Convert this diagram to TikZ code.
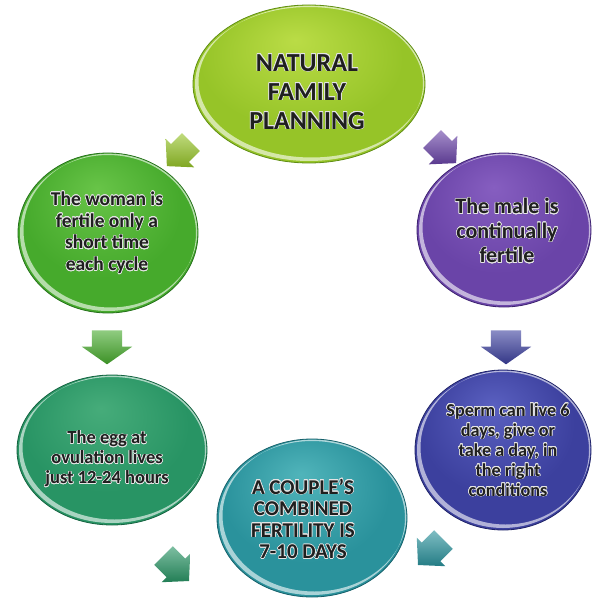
\documentclass[tikz,border=0pt]{standalone}
\usepackage{fontspec}
\setmainfont{Carlito}
\usepackage{contour}
\contourlength{0.55pt}
\contournumber{20}
\usetikzlibrary{shapes.geometric,shapes.arrows}

% colours of the glossy bubbles: light / body / rim
\definecolor{limeL}{RGB}{186,220,70}  \definecolor{limeB}{RGB}{150,196,40}  \definecolor{limeD}{RGB}{96,142,20}
\definecolor{leafL}{RGB}{104,196,72}  \definecolor{leafB}{RGB}{70,170,44}   \definecolor{leafD}{RGB}{38,114,28}
\definecolor{plumL}{RGB}{134,94,192}  \definecolor{plumB}{RGB}{106,68,168}  \definecolor{plumD}{RGB}{62,36,112}
\definecolor{navyL}{RGB}{90,96,192}   \definecolor{navyB}{RGB}{60,64,158}   \definecolor{navyD}{RGB}{32,36,104}
\definecolor{jadeL}{RGB}{70,172,122}  \definecolor{jadeB}{RGB}{40,148,100}  \definecolor{jadeD}{RGB}{22,100,66}
\definecolor{tealL}{RGB}{80,180,186}  \definecolor{tealB}{RGB}{42,146,156}  \definecolor{tealD}{RGB}{22,96,106}

\colorlet{glossin}{white}\colorlet{glossmid}{gray}\colorlet{glossout}{black}
\pgfdeclareradialshading[glossin,glossmid,glossout]{glossy}{\pgfpoint{-3bp}{14bp}}{%
  color(0bp)=(glossin); color(22bp)=(glossmid); color(43bp)=(glossmid); color(50bp)=(glossout)}

\newcommand\glowline[1]{\contour{white!90!black}{#1}}

\tikzset{
  bubble/.style n args={5}{ellipse, inner sep=-30pt, minimum width=#4, minimum height=#5,
    /utils/exec={\colorlet{glossin}{#1}\colorlet{glossmid}{#2}\colorlet{glossout}{#3}},
    shading=glossy, draw=#3, line width=0.8pt,
    path picture={
      \fill[white, opacity=.6, even odd rule]
        (path picture bounding box.center) ellipse [x radius=#4/2-2pt, y radius=#5/2-2pt]
        ([xshift=2.5pt,yshift=2.5pt]path picture bounding box.center)
          ellipse [x radius=#4/2-3pt, y radius=#5/2-3pt];
    }},
  caption/.style={text=black!88, align=center, inner sep=0pt},
  % colour, direction, total width, length, shaft width, tip angle
  blockarrow/.style n args={6}{single arrow, draw=none, inner xsep=0pt, inner ysep=#5/2,
    minimum width=#3, minimum height=#4, single arrow head extend=(#3-#5)/2,
    single arrow tip angle=#6, rotate=#2,
    top color=#1!60!white, bottom color=#1!85!black},
}

\begin{document}
\begin{tikzpicture}[x=1pt, y=-1pt]
\useasboundingbox (0,0) rectangle (592,604);

% bubbles
\node[bubble={limeL}{limeB}{limeD}{232pt}{158pt}] (plan)   at (309,84)  {};
\node[bubble={leafL}{leafB}{leafD}{180pt}{160pt}] (woman)  at (108,233) {};
\node[bubble={plumL}{plumB}{plumD}{174pt}{154pt}] (male)   at (504,230) {};
\node[bubble={jadeL}{jadeB}{jadeD}{190pt}{150pt}] (egg)    at (112,450) {};
\node[bubble={navyL}{navyB}{navyD}{176pt}{160pt}] (sperm)  at (503,450) {};
\node[bubble={tealL}{tealB}{tealD}{190pt}{158pt}] (couple) at (312,518) {};

% captions
\node[caption, font=\bfseries\fontsize{26}{29}\selectfont] (plan-t) at (307,92)
  {\glowline{NATURAL}\\\glowline{FAMILY}\\\glowline{PLANNING}};
\node[caption, font=\bfseries\fontsize{19.5}{21.7}\selectfont] (woman-t) at (107,233)
  {\glowline{The woman is}\\\glowline{fertile only a}\\\glowline{short time}\\\glowline{each cycle}};
\node[caption, font=\bfseries\fontsize{22}{24.5}\selectfont] (male-t) at (507,231)
  {\glowline{The male is}\\\glowline{continually}\\\glowline{fertile}};
\node[caption, font=\bfseries\fontsize{18.2}{20}\selectfont] (sperm-t) at (508,450)
  {\glowline{Sperm can live 6}\\\glowline{days, give or}\\\glowline{take a day, in}\\\glowline{the right}\\\glowline{conditions}};
\node[caption, font=\bfseries\fontsize{18.5}{20}\selectfont] (egg-t) at (107,459)
  {\glowline{The egg at}\\\glowline{ovulation lives}\\\glowline{just 12-24 hours}};
\node[caption, font=\bfseries\fontsize{21}{21.5}\selectfont] (couple-t) at (303,519)
  {\glowline{A COUPLE'S}\\\glowline{COMBINED}\\\glowline{FERTILITY IS}\\\glowline{7-10 DAYS}};

% block arrows between the bubbles
\node[blockarrow={limeB}{-135}{40pt}{34pt}{25pt}{95}] (a1) at (183,150) {};
\node[blockarrow={plumB}{-45}{40pt}{34pt}{25pt}{95}]  (a2) at (440,147) {};
\node[blockarrow={leafB}{-90}{50pt}{34pt}{30pt}{110}] (a3) at (107,342) {};
\node[blockarrow={navyB}{-90}{50pt}{34pt}{30pt}{110}] (a4) at (506,342) {};
\node[blockarrow={tealB}{-135}{40pt}{36pt}{26pt}{95}] (a5) at (435,548) {};
\node[blockarrow={jadeB}{-45}{40pt}{36pt}{26pt}{95}]  (a6) at (172,564) {};
\end{tikzpicture}
\end{document}
